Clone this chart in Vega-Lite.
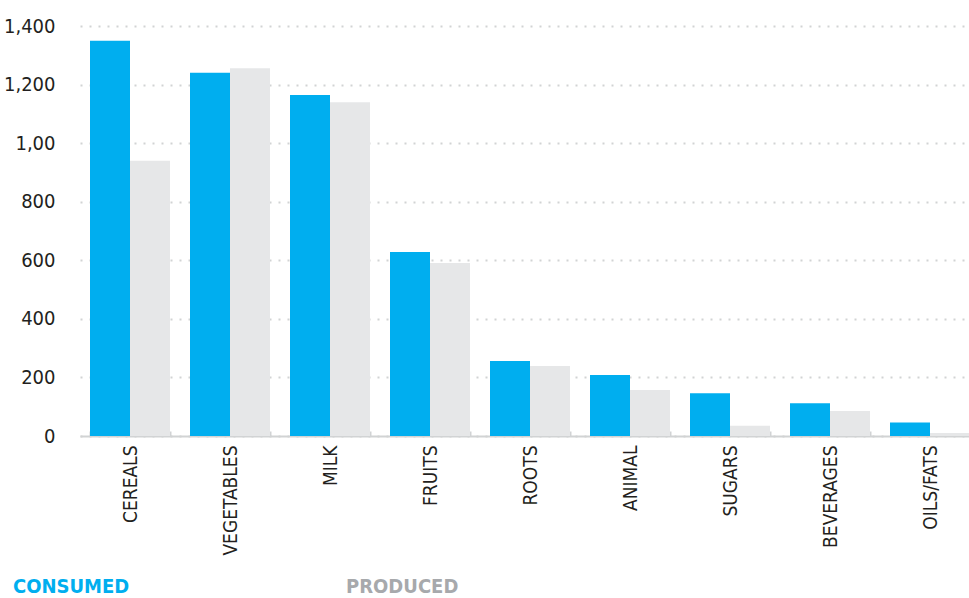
{
  "$schema": "https://vega.github.io/schema/vega-lite/v6.json",
  "autosize": "none",
  "width": 900,
  "height": 410,
  "padding": {"left": 80, "top": 26, "right": 0, "bottom": 162},
  "background": "white",
  "config": {
    "view": {"stroke": null},
    "font": "DejaVu Sans Condensed, Roboto, sans-serif"
  },
  "data": {
    "values": [
      {"food": "CEREALS", "type": "CONSUMED", "value": 1350},
      {"food": "CEREALS", "type": "PRODUCED", "value": 940},
      {"food": "VEGETABLES", "type": "CONSUMED", "value": 1240},
      {"food": "VEGETABLES", "type": "PRODUCED", "value": 1256},
      {"food": "MILK", "type": "CONSUMED", "value": 1164},
      {"food": "MILK", "type": "PRODUCED", "value": 1140},
      {"food": "FRUITS", "type": "CONSUMED", "value": 628},
      {"food": "FRUITS", "type": "PRODUCED", "value": 591},
      {"food": "ROOTS", "type": "CONSUMED", "value": 256},
      {"food": "ROOTS", "type": "PRODUCED", "value": 239},
      {"food": "ANIMAL", "type": "CONSUMED", "value": 208},
      {"food": "ANIMAL", "type": "PRODUCED", "value": 157},
      {"food": "SUGARS", "type": "CONSUMED", "value": 146},
      {"food": "SUGARS", "type": "PRODUCED", "value": 35},
      {"food": "BEVERAGES", "type": "CONSUMED", "value": 112},
      {"food": "BEVERAGES", "type": "PRODUCED", "value": 85},
      {"food": "OILS/FATS", "type": "CONSUMED", "value": 46},
      {"food": "OILS/FATS", "type": "PRODUCED", "value": 10}
    ]
  },
  "mark": {"type": "bar"},
  "encoding": {
    "x": {
      "field": "food",
      "type": "nominal",
      "sort": null,
      "scale": {"paddingInner": 0.2, "paddingOuter": 0.1},
      "axis": {
        "title": null,
        "labelAngle": -90,
        "labelAlign": "right",
        "labelBaseline": "middle",
        "labelFontSize": 19,
        "labelColor": "#231F20",
        "labelPadding": 14,
        "tickBand": "extent",
        "tickSize": -5,
        "tickColor": "#D1D3D4",
        "tickWidth": 2,
        "domainColor": "#D1D3D4",
        "domainWidth": 2
      }
    },
    "xOffset": {
      "field": "type",
      "type": "nominal",
      "scale": {"paddingInner": 0, "paddingOuter": 0}
    },
    "y": {
      "field": "value",
      "type": "quantitative",
      "scale": {"domain": [0, 1400], "nice": false},
      "axis": {
        "title": null,
        "values": [0, 200, 400, 600, 800, 1000, 1200, 1400],
        "labelExpr": "datum.value == 1000 ? '1,00' : format(datum.value, ',')",
        "labelFontSize": 20,
        "labelColor": "#231F20",
        "labelPadding": 25,
        "domain": false,
        "ticks": false,
        "grid": true,
        "gridColor": "#D1D3D4",
        "gridDash": [2, 7],
        "gridWidth": 2
      }
    },
    "color": {
      "field": "type",
      "type": "nominal",
      "scale": {"domain": ["CONSUMED", "PRODUCED"], "range": ["#00AEEF", "#E6E7E8"]},
      "legend": {
        "title": null,
        "orient": "none",
        "legendX": -87,
        "legendY": 551,
        "direction": "horizontal",
        "symbolSize": 0,
        "symbolStrokeWidth": 0,
        "symbolOpacity": 0,
        "labelOffset": 0,
        "labelFontSize": 20,
        "labelFontWeight": "bold",
        "columnPadding": 196,
        "encode": {
          "labels": {
            "update": {
              "fill": {"signal": "datum.value === 'CONSUMED' ? '#00AEEF' : '#A7A9AC'"}
            }
          }
        }
      }
    }
  }
}
